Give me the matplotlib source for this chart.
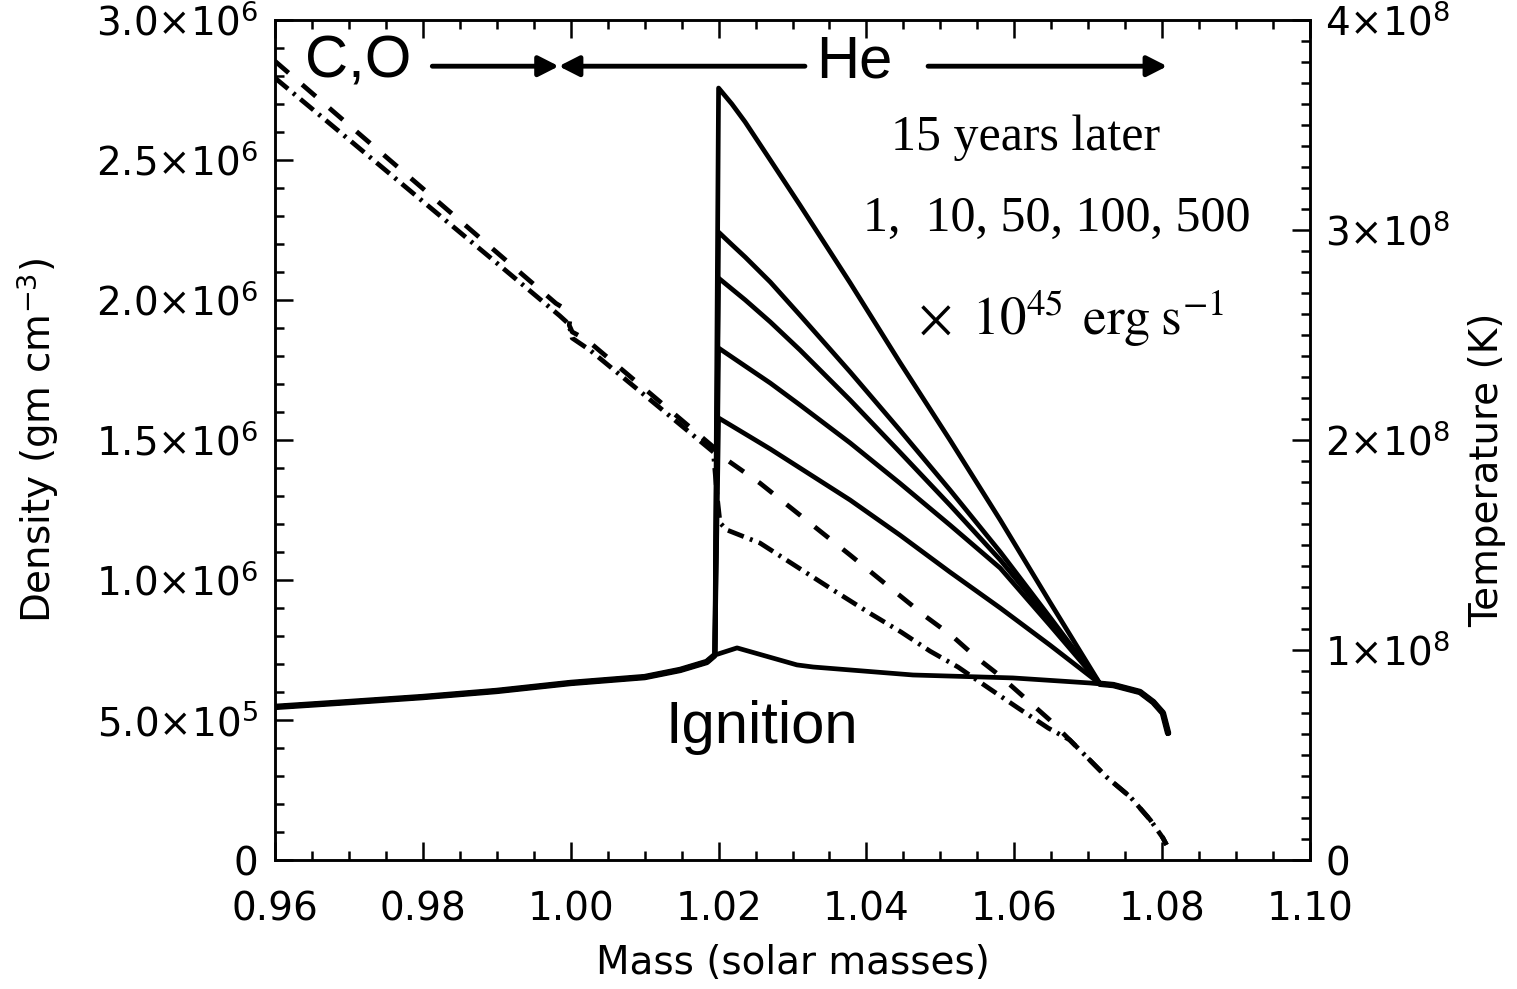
import numpy as np
import matplotlib.pyplot as plt
from matplotlib.ticker import MultipleLocator

plt.rcParams['font.family'] = ['DejaVu Sans']
plt.rcParams['mathtext.fontset'] = 'stix'

# temperature at ignition (K) vs mass (solar masses)
ign_mass = [0.9600, 0.9700, 0.9800, 0.9900, 1.0000, 1.0100, 1.0148, 1.0184, 1.0195,
            1.0225, 1.0306, 1.0328, 1.0463, 1.0598, 1.0702, 1.0734, 1.0770, 1.0788,
            1.0801, 1.0808]
ign_temp = [7.29e7, 7.52e7, 7.76e7, 8.05e7, 8.43e7, 8.71e7, 9.05e7, 9.43e7, 9.76e7,
            1.010e8, 9.29e7, 9.19e7, 8.81e7, 8.67e7, 8.43e7, 8.33e7, 8.00e7, 7.52e7,
            7.00e7, 6.05e7]

# 15 years later, burning shell, for 500, 100, 50, 10, 1 x 1e45 erg/s
burn_mass = [1.0200, 1.0218, 1.0236, 1.0270, 1.0310, 1.0378, 1.0445, 1.0513, 1.0581, 1.0648]
temp_500 = [3.676e8, 3.600e8, 3.514e8, 3.333e8, 3.119e8, 2.748e8, 2.371e8, 2.000e8, 1.619e8, 1.229e8]
temp_100 = [2.990e8, 2.930e8, 2.871e8, 2.752e8, 2.595e8, 2.324e8, 2.048e8, 1.762e8, 1.467e8, 1.157e8]
temp_50 = [2.771e8, 2.719e8, 2.667e8, 2.562e8, 2.429e8, 2.190e8, 1.943e8, 1.690e8, 1.429e8, 1.143e8]
temp_10 = [2.438e8, 2.395e8, 2.352e8, 2.271e8, 2.167e8, 1.986e8, 1.795e8, 1.595e8, 1.390e8, 1.119e8]
temp_1 = [2.105e8, 2.067e8, 2.029e8, 1.957e8, 1.867e8, 1.714e8, 1.548e8, 1.371e8, 1.200e8, 1.024e8]
tail_mass = [1.0716, 1.0734, 1.0770, 1.0788, 1.0801, 1.0808]
tail_temp = [8.39e7, 8.33e7, 8.00e7, 7.52e7, 7.00e7, 6.05e7]

# density (gm cm^-3)
dens_a_mass = [0.9600, 0.9700, 0.9800, 0.9900, 0.9980, 0.9988, 0.9996, 0.9999, 0.9998,
               1.0002, 1.0022, 1.0100, 1.0193, 1.0202, 1.0256, 1.0310, 1.0378, 1.0436,
               1.0481, 1.0516, 1.0548, 1.0581, 1.0648, 1.0698, 1.0725, 1.0757, 1.0784,
               1.0801, 1.0806]
dens_a = [2.853e6, 2.625e6, 2.398e6, 2.170e6, 1.988e6, 1.975e6, 1.950e6, 1.930e6, 1.910e6,
          1.886e6, 1.857e6, 1.683e6, 1.475e6, 1.446e6, 1.346e6, 1.232e6, 1.089e6, 0.964e6,
          0.868e6, 0.800e6, 0.725e6, 0.657e6, 0.500e6, 0.368e6, 0.296e6, 0.225e6, 0.143e6,
          0.079e6, 0.054e6]
dens_b_mass = [0.9600, 0.9700, 0.9800, 0.9900, 0.9985, 0.9995, 1.0000, 1.0002, 1.0026,
               1.0100, 1.0193, 1.0198, 1.0202, 1.0211, 1.0256, 1.0355, 1.0406, 1.0447,
               1.0486, 1.0524, 1.0567, 1.0605, 1.0646, 1.0675, 1.0698, 1.0725, 1.0757,
               1.0784, 1.0801, 1.0806]
dens_b = [2.793e6, 2.573e6, 2.352e6, 2.132e6, 1.944e6, 1.920e6, 1.890e6, 1.864e6, 1.821e6,
          1.660e6, 1.457e6, 1.300e6, 1.204e6, 1.179e6, 1.132e6, 0.964e6, 0.879e6, 0.814e6,
          0.746e6, 0.689e6, 0.611e6, 0.543e6, 0.471e6, 0.429e6, 0.368e6, 0.296e6, 0.225e6,
          0.143e6, 0.079e6, 0.054e6]

xticks = [0.96, 0.98, 1.00, 1.02, 1.04, 1.06, 1.08, 1.10]
xlabels = ['0.96', '0.98', '1.00', '1.02', '1.04', '1.06', '1.08', '1.10']
dticks = [0, 5e5, 1e6, 1.5e6, 2e6, 2.5e6, 3e6]
dlabels = ['0', r'$\mathregular{5.0{\times}10^{5}}$', r'$\mathregular{1.0{\times}10^{6}}$',
           r'$\mathregular{1.5{\times}10^{6}}$', r'$\mathregular{2.0{\times}10^{6}}$',
           r'$\mathregular{2.5{\times}10^{6}}$', r'$\mathregular{3.0{\times}10^{6}}$']
tticks = [0, 1e8, 2e8, 3e8, 4e8]
tlabels = ['0', r'$\mathregular{1{\times}10^{8}}$', r'$\mathregular{2{\times}10^{8}}$',
           r'$\mathregular{3{\times}10^{8}}$', r'$\mathregular{4{\times}10^{8}}$']

fig = plt.figure(figsize=(15.17, 9.89), dpi=100)
ax = fig.add_axes([275 / 1517, 129 / 989, 1035 / 1517, 840 / 989])
ax2 = ax.twinx()

lw = 3.4
ax.plot(dens_a_mass, dens_a, color='k', lw=lw, ls=(0, (3.8, 3.8)))
ax.plot(dens_b_mass, dens_b, color='k', lw=lw, ls=(0, (3.6, 1.4, 0.6, 1.4)))

# ignition curve is overlapped by the later ones outside the shell: draw it a bit heavier
ax2.plot(ign_mass, ign_temp, color='k', lw=lw, solid_joinstyle='round')
ax2.plot(ign_mass[:9], ign_temp[:9], color='k', lw=lw + 1.2, solid_capstyle='butt')
ax2.plot(tail_mass, tail_temp, color='k', lw=lw + 1.2, solid_capstyle='round')
for tt in [temp_500, temp_100, temp_50, temp_10, temp_1]:
    xs = ign_mass[:9] + burn_mass + tail_mass
    ys = ign_temp[:9] + tt + tail_temp
    ax2.plot(xs, ys, color='k', lw=lw, solid_joinstyle='round')

ax.set_xlim(0.96, 1.10)
ax.set_ylim(0, 3e6)
ax2.set_ylim(0, 4e8)

fs = 28
ax.set_xticks(xticks)
ax.set_xticklabels(xlabels, fontsize=fs)
ax.set_yticks(dticks)
ax.set_yticklabels(dlabels, fontsize=fs)
ax2.set_yticks(tticks)
ax2.set_yticklabels(tlabels, fontsize=fs)
ax.xaxis.set_minor_locator(MultipleLocator(0.005))
ax.yaxis.set_minor_locator(MultipleLocator(1e5))
ax2.yaxis.set_minor_locator(MultipleLocator(1e7))

ax.tick_params(which='both', direction='in', top=True, right=False, width=1.8)
ax.tick_params(which='major', length=13)
ax.tick_params(which='minor', length=6.5)
ax.tick_params(axis='x', pad=22)
ax.tick_params(axis='y', pad=12)
ax2.tick_params(which='both', direction='in', width=1.8)
ax2.tick_params(which='major', length=13, pad=11)
ax2.tick_params(which='minor', length=6.5)
for a in (ax, ax2):
    for s in a.spines.values():
        s.set_linewidth(1.8)

ax.set_xlabel('Mass (solar masses)', fontsize=fs, va='center')
ax.xaxis.set_label_coords(0.5, -0.1226)
ax.set_ylabel(r'Density (gm cm$^{\mathregular{-3}}$)', fontsize=fs, va='center')
ax.yaxis.set_label_coords(-0.229, 0.5)
ax2.set_ylabel('Temperature (K)', fontsize=fs, va='center', rotation=90)
ax2.yaxis.set_label_coords(1.171, 0.464)

# zone annotations
big = 43
ax.text(0.080, 0.950, 'C,O', transform=ax.transAxes, fontsize=big,
        ha='center', va='center', family='Liberation Sans')
ax.text(0.560, 0.950, 'He', transform=ax.transAxes, fontsize=big,
        ha='center', va='center', family='Liberation Sans')
ax.text(0.4705, 0.158, 'Ignition', transform=ax.transAxes, fontsize=big,
        ha='center', va='center', family='Liberation Sans')

ah = dict(arrowstyle='-|>,head_length=0.55,head_width=0.28', lw=3.5, color='k',
          mutation_scale=22, shrinkA=0, shrinkB=0)
ay = 0.945
ax.annotate('', xy=(0.2742, ay), xytext=(0.152, ay), xycoords='axes fraction',
            textcoords='axes fraction', arrowprops=ah)
ax.annotate('', xy=(0.2742, ay), xytext=(0.512, ay), xycoords='axes fraction',
            textcoords='axes fraction', arrowprops=ah)
ax.annotate('', xy=(0.862, ay), xytext=(0.631, ay), xycoords='axes fraction',
            textcoords='axes fraction', arrowprops=ah)

sf = 36
ax.text(0.7256, 0.8595, '15 years later', transform=ax.transAxes, fontsize=sf,
        ha='center', va='center', family='Liberation Serif')
ax.text(0.7556, 0.764, '1,  10, 50, 100, 500', transform=ax.transAxes, fontsize=sf,
        ha='center', va='center', family='Liberation Serif')
ax.text(0.769, 0.645, r'$\times\;\;10^{45}\;\,\mathrm{erg\;s^{-1}}$', transform=ax.transAxes,
        fontsize=38, ha='center', va='center')

fig.savefig('out.png', dpi=100)
